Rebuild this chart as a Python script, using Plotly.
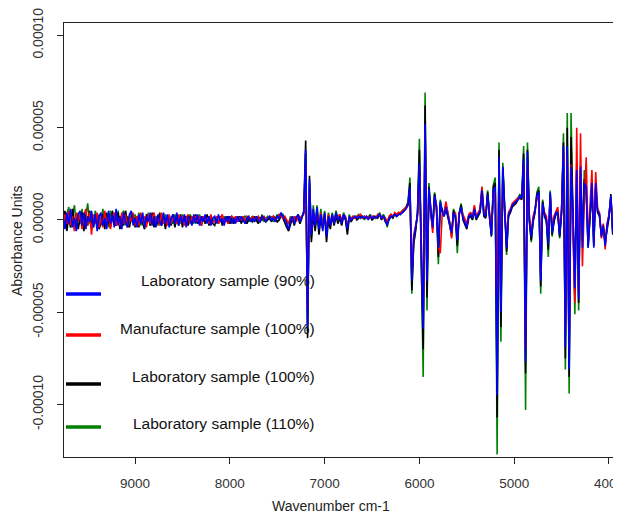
import plotly.graph_objects as go

# Wavenumber sampling (cm-1)
wavenumber = list(range(9760, 3859, -20))

# Absorbance values in micro-units (x 1e-6).
# "_high": 9760 -> 7240 cm-1 ; "_low": 7220 -> 3860 cm-1
lab90_high = [2, -5, 4, -2, 6, -4, 1, -6, 3, 5,
              -3, 4, -5, 2, -1, 5, -4, 3, -6, 2,
              4, -3, 1, -5, 5, -2, 3, -4, 6, -3,
              2, -5, 4, -1, -4, 3, 5, -3, 1, -4,
              3, -2, 4, -4, 2, -1, 4, -3, 2, -4,
              3, -1, -3, 4, -2, 3, -4, 1, 3, -2,
              4, -3, 2, -2, 3, -4, 2, 0, -3, 3,
              -2, 3, -3, 2, -1, 3, -2, 2, -3, 1,
              2, -2, 3, -1, 1, -3, 2, -1, 2, -2,
              1, -2, 2, -1, 2, 0, -2, 1, 2, -1,
              1, -1, 2, 0, -1, 2, 1, -1, 1, 2,
              0, 1, -1, 2, 1, 4, 2, 0, -2, -5,
              0, 2, -2, 1, 3, -1, 2]
lab90_low = [4, 38, -58, 22, -8, 6, -3, 7, -5, 3,
             -6, 4, -9, 2, -3, 3, -2, 4, 0, 2,
             -2, 3, 1, -5, 2, 0, 1, 2, 1, 2,
             1, 2, 1, 2, 0, 2, 1, 2, 1, 2,
             3, 1, 2, 0, -3, 1, 2, 2, 3, 2,
             3, 3, 4, 5, 6, 8, 18, -33, -10, -4,
             3, 31, -20, -59, 52, -33, 17, 4, -4, 13,
             7, -15, 10, 4, 2, 7, 3, -2, -7, 4,
             2, -11, 3, 7, 1, -2, -4, 2, 3, 1,
             6, 1, 3, 5, 16, 3, 2, 14, 2, -8,
             16, 18, -95, 34, -50, 29, 5, -15, 3, 5,
             8, 9, 10, 11, 13, 12, 33, -77, 37, 0,
             -9, 0, 5, 13, 15, -33, 9, 3, 0, -13,
             15, -7, 0, 4, 4, -8, 5, 40, -69, 40,
             -81, 29, 4, -37, 27, -43, 29, -15, 20, 18,
             -15, 5, 20, -15, 20, 5, 3, -9, -3, -14,
             -3, 2, 13, -7, 0, -9, 22, -29, 22]

manu100_high = [-4, 3, -2, 5, -3, 2, -6, 4, -1, 3,
                -5, 2, 6, -3, 4, -8, 3, -2, 4, -4,
                2, -4, 5, -2, 3, -5, 2, 4, -3, 1,
                -3, 4, -2, 3, -4, 2, -1, 4, -3, 2,
                -3, 4, -1, 2, -4, 3, -2, 1, 4, -2,
                2, -3, 4, -2, 1, -3, 3, -2, 2, -1,
                -2, 3, -1, 2, -3, 1, 3, -2, 2, -1,
                2, -1, 2, -3, 2, 0, 1, -2, 3, -1,
                -1, 2, -2, 1, 3, -1, 1, -2, 1, 2,
                0, 2, -1, 1, 0, 2, -1, 2, 1, 0,
                2, 0, 1, 2, -1, 1, 2, 0, 1, 2,
                1, 2, 0, 1, 3, 2, 1, 2, 0, -2,
                1, 0, 2, -1, 2, 1, 2]
manu100_low = [3, 30, -48, 16, -6, 4, -2, 5, -3, 4,
               -4, 2, -5, 3, -2, 2, 0, 3, 1, 3,
               0, 2, 2, -3, 1, 1, 2, 1, 2, 2,
               3, 1, 2, 1, 2, 1, 2, 2, 1, 3,
               2, 2, 1, 1, -1, 2, 3, 2, 4, 3,
               4, 4, 5, 6, 7, 8, 16, -30, -8, -3,
               2, 28, -18, -55, 48, -30, 15, 6, -7, 12,
               8, -15, -18, 3, 4, 10, 4, -1, -10, 3,
               4, -9, 4, 6, 3, 0, -2, 3, 4, 2,
               8, 2, 4, 6, 18, 5, 3, 12, 4, -6,
               14, 15, -55, 28, -45, 22, 4, -12, 4, 6,
               9, 10, 11, 12, 12, 13, 28, -70, 30, 2,
               -7, 2, 6, 11, 13, -28, 8, 4, 2, -10,
               13, -5, 2, 5, 7, -6, 6, 38, -60, 35,
               -70, 30, -5, -45, 50, -40, 47, -25, 10, 34,
               -12, 8, 27, -12, 26, 6, 4, -10, -2, -16,
               -2, 3, 12, -5, -9, -7, 30, -33, 28]

lab100_high = [-3, 5, -6, 2, -4, 6, -2, 3, -5, 1,
               4, -6, 3, -3, 5, -2, -4, 2, 3, -5,
               -2, 3, -5, 4, -1, -4, 5, -2, -3, 4,
               -5, 2, -3, 5, -2, -4, 1, 3, -4, 2,
               -4, 3, -2, -5, 3, 2, -3, 4, -4, 1,
               -2, 4, -3, 2, -5, 1, 2, -3, 3, -4,
               2, -3, 3, -4, 1, 2, -3, 2, -2, 1,
               3, -2, 1, -3, 2, -2, 3, -3, 1, -2,
               -3, 1, -2, 2, -3, 1, -1, 2, -2, 1,
               -2, 1, -1, 2, -2, 1, 0, -2, 1, 0,
               -1, 2, 0, -2, 1, 0, 2, -1, 0, 1,
               -1, 2, 1, -1, 0, 3, 1, -2, -4, -6,
               -2, 1, -3, 2, 1, -2, 1]
lab100_low = [5, 43, -64, 24, -12, 3, -6, 4, -8, 1,
              -5, 3, -12, 0, -5, 2, -3, 2, -2, 1,
              -3, 2, 0, -8, 1, -1, 1, 2, 0, 1,
              2, 1, 2, 1, 1, 2, 0, 1, 2, 1,
              3, 0, 2, -1, -2, 0, 2, 1, 3, 2,
              3, 4, 4, 5, 7, 9, 20, -38, -13, -6,
              4, 38, -25, -70, 62, -42, 18, 3, -5, 14,
              6, -20, 9, 5, 2, 6, 2, -3, -8, 5,
              1, -14, 3, 8, 0, -3, -5, 1, 2, 0,
              5, 0, 2, 4, 15, 2, 1, 15, 1, -9,
              18, 20, -107, 38, -58, 28, 6, -17, 2, 4,
              7, 8, 9, 11, 12, 11, 36, -83, 38, -1,
              -11, -1, 4, 14, 16, -36, 10, 2, -1, -16,
              14, -8, -1, 3, 3, -9, 4, 42, -75, 50,
              -85, 45, 3, -40, 27, -45, 28, -12, 22, 16,
              -14, 4, 18, -14, 18, 4, 2, -8, -4, -12,
              -4, 1, 14, -8, 1, -10, 20, -27, 20]

lab110_high = [5, -2, 3, 7, -4, 2, 8, -3, 4, -2,
               6, -3, 2, 9, -2, 4, -3, 5, -1, 3,
               -3, 6, -2, 3, -4, 5, -1, 2, -3, 5,
               -2, 3, 5, -3, 2, -2, 4, -1, 3, -2,
               4, -3, 2, 1, -2, 4, -3, 3, -1, 2,
               -3, 2, 1, -2, 3, -2, 2, -1, -2, 3,
               -1, 2, -2, 3, -1, 2, -2, 3, 1, -2,
               2, -2, 3, -1, 1, -2, 2, 0, 2, -1,
               1, -1, 2, 0, -1, 2, 0, 1, -2, 2,
               1, -1, 2, 0, 1, -1, 2, 1, -1, 1,
               2, 1, -1, 2, 0, 3, -1, 1, 2, 0,
               2, -1, 1, 3, 0, 2, 3, 1, -1, -2,
               2, -1, 1, 0, 3, 1, 2]
lab110_low = [4, 36, -60, 20, -10, 8, -4, 8, -4, 6,
              -3, 5, -7, 4, -2, 4, -1, 5, 1, 3,
              -1, 4, 1, -6, 3, 0, 2, 1, 2, 3,
              1, 2, 0, 2, 1, 3, 1, 2, 1, 2,
              4, 1, 3, 1, -4, 1, 3, 2, 3, 2,
              4, 3, 5, 6, 7, 10, 23, -40, -12, -5,
              4, 44, -28, -85, 69, -49, 20, 5, -4, 15,
              8, -24, 11, 5, 3, 8, 4, -2, -9, 6,
              3, -18, 4, 9, 2, -2, -3, 2, 4, 1,
              7, 1, 3, 5, 18, 4, 2, 16, 3, -8,
              19, 23, -127, 42, -66, 31, 7, -19, 3, 5,
              8, 9, 10, 12, 14, 12, 40, -103, 42, 1,
              -12, 0, 6, 15, 18, -40, 11, 3, 0, -20,
              16, -9, 0, 4, 5, -10, 5, 47, -81, 58,
              -94, 58, 5, -51, 30, -49, 25, -10, 27, 14,
              -15, 5, 17, -13, 17, 5, 3, -9, -3, -13,
              -3, 2, 13, -7, 0, -9, 21, -28, 21]

series_names = ["Laboratory sample (90%)", "Manufacture sample (100%)",
                "Laboratory sample (100%)", "Laboratory sample (110%)"]
series_colors = ["#0000FF", "#FF0000", "#000000", "#008000"]
series_values = [lab90_high + lab90_low, manu100_high + manu100_low,
                 lab100_high + lab100_low, lab110_high + lab110_low]

y_tick_vals = [-0.0001, -0.00005, 0.0, 0.00005, 0.0001]
y_tick_text = ["-0.00010", "-0.00005", "0.00000", "0.00005", "0.00010"]
x_tick_vals = [9000, 8000, 7000, 6000, 5000, 4000]

for v in series_values:
    assert len(v) == len(wavenumber), (len(v), len(wavenumber))

# The page body has an 8px default margin; lay out in screen pixels minus that.
OFF = 8
W, H = 621 - OFF, 515 - OFF
L, T = 64 - OFF, 23 - OFF
PLOT_BOTTOM = 457 - OFF
R, B = 0, H - PLOT_BOTTOM
pw, ph = W - L - R, H - T - B

def px_x(p):  # screen px -> paper
    return (p - OFF - L) / pw

def px_y(p):
    return (PLOT_BOTTOM - (p - OFF)) / ph

fig = go.Figure()
# draw order: green, black, red, blue (blue on top)
for idx in [3, 2, 1, 0]:
    fig.add_trace(go.Scatter(
        x=wavenumber, y=[v * 1e-6 for v in series_values[idx]],
        mode="lines", name=series_names[idx],
        line=dict(color=series_colors[idx], width=1.6),
        showlegend=False))

txt_font = "Liberation Sans, Arial, sans-serif"
fig.update_layout(
    width=W, height=H,
    margin=dict(l=L, r=R, t=T, b=B, pad=0, autoexpand=False),
    plot_bgcolor="white", paper_bgcolor="white",
    showlegend=False,
    xaxis=dict(range=[9750, 3873], showline=True, linecolor="#222", linewidth=1,
               mirror=True, ticks="outside", ticklen=6, tickcolor="#222",
               tickvals=x_tick_vals, showgrid=False, zeroline=False,
               automargin=False, ticklabeloverflow="allow",
               tickfont=dict(family=txt_font, size=13.5, color="#333"),
               ticklabelstandoff=8),
    yaxis=dict(range=[-128.4e-6, 106.7e-6], showline=True, linecolor="#222",
               linewidth=1, mirror=False, ticks="outside", ticklen=6,
               tickcolor="#222", tickvals=y_tick_vals, ticktext=y_tick_text,
               tickangle=-90, showgrid=False, zeroline=False,
               automargin=False, ticklabeloverflow="allow",
               tickfont=dict(family=txt_font, size=14, color="#333"),
               ticklabelstandoff=8),
)

# axis titles
fig.add_annotation(text="Absorbance Units", xref="paper", yref="paper",
                   x=px_x(17), y=px_y(241), xanchor="center", yanchor="middle",
                   textangle=-90, showarrow=False,
                   font=dict(family=txt_font, size=14, color="#222"))
fig.add_annotation(text="Wavenumber cm-1", xref="paper", yref="paper",
                   x=px_x(331), y=px_y(506), xanchor="center", yanchor="middle",
                   showarrow=False,
                   font=dict(family=txt_font, size=14, color="#222"))

# custom legend (text above, line sample below-left)
legend_text_y = [280, 328, 376, 423]
legend_line_y = [294, 335, 384, 427]
for name, col, ty, ly in zip(series_names, series_colors, legend_text_y, legend_line_y):
    fig.add_shape(type="line", xref="paper", yref="paper",
                  x0=px_x(66), x1=px_x(101), y0=px_y(ly), y1=px_y(ly),
                  line=dict(color=col, width=3.5))
    fig.add_annotation(text=name, xref="paper", yref="paper",
                       x=px_x(317), y=px_y(ty), xanchor="right", yanchor="middle",
                       showarrow=False,
                       font=dict(family=txt_font, size=15.5, color="#111"))

fig.write_html("out.html")
